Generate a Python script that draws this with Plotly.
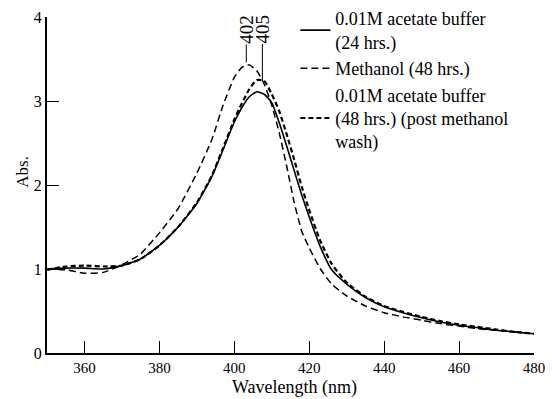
import plotly.graph_objects as go

wavelength = [350, 355, 360, 365, 370, 375, 380, 385, 390, 394, 397, 400, 402, 404, 406,
              408, 410, 412, 414, 416, 418, 420, 423, 426, 430, 435, 440, 445, 450, 455,
              460, 465, 470, 475, 480]

acetate_24h = [1.00, 1.01, 1.01, 1.00, 1.04, 1.12, 1.28, 1.50, 1.78, 2.10, 2.42, 2.75, 2.92,
               3.05, 3.11, 3.08, 2.98, 2.74, 2.46, 2.17, 1.88, 1.62, 1.26, 0.99, 0.82, 0.66,
               0.55, 0.48, 0.42, 0.37, 0.33, 0.30, 0.27, 0.25, 0.23]

methanol_48h = [1.00, 0.99, 0.95, 0.96, 1.05, 1.18, 1.43, 1.72, 2.14, 2.54, 2.95, 3.28, 3.40,
                3.43, 3.36, 3.20, 2.95, 2.62, 2.22, 1.79, 1.45, 1.25, 1.00, 0.82, 0.68, 0.56,
                0.48, 0.43, 0.39, 0.35, 0.32, 0.29, 0.27, 0.25, 0.23]

acetate_48h_wash = [0.99, 1.03, 1.04, 1.03, 1.04, 1.12, 1.28, 1.50, 1.79, 2.11, 2.44, 2.78, 2.97,
                    3.14, 3.25, 3.24, 3.08, 2.88, 2.60, 2.30, 1.98, 1.70, 1.33, 1.06, 0.84, 0.67,
                    0.56, 0.49, 0.43, 0.38, 0.34, 0.31, 0.28, 0.25, 0.23]

x_ticks = [360, 380, 400, 420, 440, 460, 480]
y_ticks = [0, 1, 2, 3, 4]

peak_labels = ["402", "405"]
peak_x = [403.2, 407.5]
peak_y = [3.46, 3.25]
peak_offsets = [-33, -51]

FONT = "Liberation Serif"

fig = go.Figure()
fig.add_trace(go.Scatter(x=wavelength, y=acetate_24h, mode="lines",
                         name="0.01M acetate buffer<br>(24 hrs.)",
                         line=dict(color="black", width=1.6, shape="spline", smoothing=0.5)))
fig.add_trace(go.Scatter(x=wavelength, y=methanol_48h, mode="lines",
                         name="Methanol (48 hrs.)",
                         line=dict(color="black", width=1.5, dash="7px,4px", shape="spline", smoothing=0.5)))
fig.add_trace(go.Scatter(x=wavelength, y=acetate_48h_wash, mode="lines",
                         name="0.01M acetate buffer<br>(48 hrs.) (post methanol<br>wash)",
                         line=dict(color="black", width=2.2, dash="5px,3px", shape="spline", smoothing=0.5)))

for lab, px, py, off in zip(peak_labels, peak_x, peak_y, peak_offsets):
    fig.add_annotation(x=px, y=py, xref="x", yref="y", text=lab, textangle=-90,
                       showarrow=True, arrowhead=0, arrowwidth=1, arrowcolor="black",
                       ax=0, ay=off, borderpad=0,
                       font=dict(family=FONT, size=19, color="black"))

fig.add_annotation(x=-0.051, y=0.54, xref="paper", yref="paper", text="Abs.", textangle=-90,
                   xanchor="center", yanchor="middle",
                   showarrow=False, font=dict(family=FONT, size=17, color="black"))
fig.add_annotation(x=0.509, y=-0.104, xref="paper", yref="paper", text="Wavelength (nm)",
                   xanchor="center", yanchor="middle", borderpad=0,
                   showarrow=False, font=dict(family=FONT, size=18, color="black"))

fig.update_layout(
    width=552, height=399,
    margin=dict(l=47, r=18, t=17, b=46, autoexpand=False),
    paper_bgcolor="white", plot_bgcolor="white",
    font=dict(family=FONT, size=16, color="black"),
    showlegend=True,
    legend=dict(x=0.51, y=1.05, xanchor="left", yanchor="top",
                bgcolor="rgba(0,0,0,0)", font=dict(family=FONT, size=18, color="black"),
                tracegroupgap=0, itemwidth=30),
)
fig.update_xaxes(range=[350, 480], tickvals=x_ticks, ticks="inside", ticklen=12, tickwidth=1.2,
                 tickcolor="black", showline=True, linecolor="black", linewidth=2,
                 showgrid=False, zeroline=False, mirror=False, automargin=False,
                 tickfont=dict(family=FONT, size=15, color="black"))
fig.update_yaxes(range=[0, 4], tickvals=y_ticks, ticks="inside", ticklen=12, tickwidth=1.2,
                 tickcolor="black", showline=True, linecolor="black", linewidth=2,
                 showgrid=False, zeroline=False, mirror=False, automargin=False,
                 tickfont=dict(family=FONT, size=16, color="black"))

fig.write_html("out.html", config={"displayModeBar": False},
               post_script="document.body.style.margin='0';")
